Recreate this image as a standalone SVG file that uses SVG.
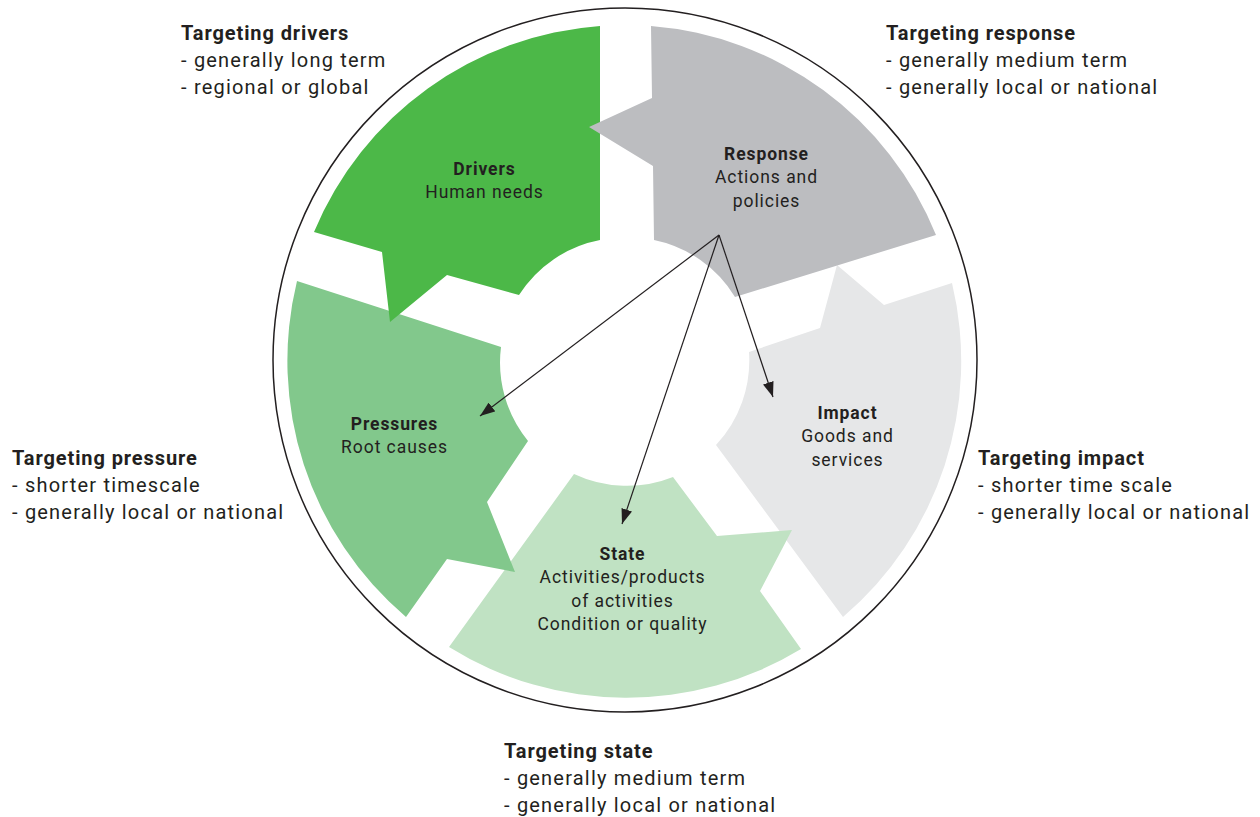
<svg xmlns="http://www.w3.org/2000/svg" width="1260" height="817" viewBox="0 0 1260 817">
<style>
text { font-family: Roboto, "Liberation Sans", sans-serif; fill: #231f20; }
.h { font-size: 20px; font-weight: bold; letter-spacing: 0.9px; }
.t { font-size: 20px; letter-spacing: 1.2px; }
.nb { font-size: 17.5px; font-weight: bold; text-anchor: middle; letter-spacing: 0.9px; }
.nt { font-size: 17.5px; text-anchor: middle; letter-spacing: 0.95px; }
.conn { stroke: #231f20; stroke-width: 1.2; fill: none; marker-end: url(#ah); }
</style>
<defs>
<marker id="ah" markerUnits="userSpaceOnUse" markerWidth="15" markerHeight="11" refX="15" refY="5.5" orient="auto">
<path d="M0,0 L15,5.5 L0,11 Z" fill="#231f20"/>
</marker>
</defs>
<rect width="1260" height="817" fill="#ffffff"/>
<circle cx="625" cy="360" r="352" fill="none" stroke="#231f20" stroke-width="1.5"/>
<g id="impact">
<path d="M749,352 A124,124 0 0 1 716,445 L843,617 A336,336 0 0 0 952,283 L884,305 L837,265 L820,328 Z" fill="#e6e7e8"/>
<text class="nb" x="847.5" y="419">Impact</text>
<text class="nt" x="847.5" y="442">Goods and</text>
<text class="nt" x="847.5" y="466">services</text>
</g>
<g id="state">
<path d="M574,474 A124,124 0 0 0 673,477 L717,536 L792,530 L760,591 L801,649 A336,336 0 0 1 449,647 Z" fill="#c0e2c3"/>
<text class="nb" x="622.5" y="560">State</text>
<text class="nt" x="622.5" y="583">Activities/products</text>
<text class="nt" x="622.5" y="607">of activities</text>
<text class="nt" x="622.5" y="630">Condition or quality</text>
</g>
<g id="pressures">
<path d="M297,281 L501,347 A124,124 0 0 0 528,441 L487,502 L515,572 L447,559 L406,617 A336,336 0 0 1 297,281 Z" fill="#82c88c"/>
<text class="nb" x="394.5" y="430">Pressures</text>
<text class="nt" x="394.5" y="453">Root causes</text>
</g>
<g id="drivers">
<path d="M600,26 A336,336 0 0 0 314,232 L382,252 L390,322 L447,275 L519,295 A124,124 0 0 1 600,240 Z" fill="#4cb848"/>
<text class="nb" x="484.5" y="175">Drivers</text>
<text class="nt" x="484.5" y="198">Human needs</text>
</g>
<g id="response">
<path d="M651,26 L652,98 L589,127 L653,166 L654,240 A124,124 0 0 1 735,297 L936,235 A336,336 0 0 0 651,26 Z" fill="#bcbdc0"/>
<text class="nb" x="766.5" y="160">Response</text>
<text class="nt" x="766.5" y="183">Actions and</text>
<text class="nt" x="766.5" y="207">policies</text>
</g>
<g id="connectors">
<line class="conn" x1="719" y1="235" x2="480" y2="416"/>
<line class="conn" x1="719" y1="235" x2="622" y2="524"/>
<line class="conn" x1="719" y1="235" x2="773" y2="397"/>
</g>
<g id="label-drivers">
<text class="h" x="181" y="40">Targeting drivers</text>
<text class="t" x="181" y="67">- generally long term</text>
<text class="t" x="181" y="94">- regional or global</text>
</g>
<g id="label-response">
<text class="h" x="886" y="40">Targeting response</text>
<text class="t" x="886" y="67">- generally medium term</text>
<text class="t" x="886" y="94">- generally local or national</text>
</g>
<g id="label-pressure">
<text class="h" x="12" y="465">Targeting pressure</text>
<text class="t" x="12" y="492">- shorter timescale</text>
<text class="t" x="12" y="519">- generally local or national</text>
</g>
<g id="label-impact">
<text class="h" x="978" y="465">Targeting impact</text>
<text class="t" x="978" y="492">- shorter time scale</text>
<text class="t" x="978" y="519">- generally local or national</text>
</g>
<g id="label-state">
<text class="h" x="504" y="758">Targeting state</text>
<text class="t" x="504" y="785">- generally medium term</text>
<text class="t" x="504" y="812">- generally local or national</text>
</g>
</svg>
